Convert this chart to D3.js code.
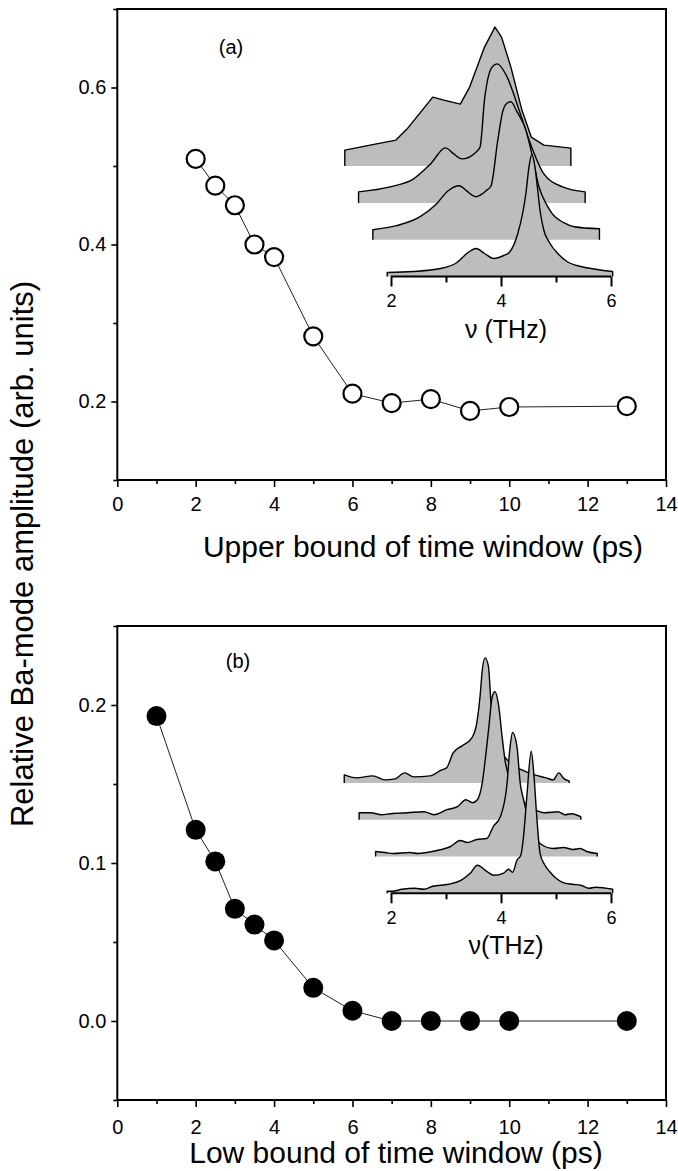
<!DOCTYPE html>
<html>
<head>
<meta charset="utf-8">
<script src="https://cdn.jsdelivr.net/npm/d3@7"></script>
<style>
  body { margin: 0; background: #fff; }
  text { font-family: "Liberation Sans", Arial, Helvetica, sans-serif; fill: #000; }
</style>
</head>
<body>
<svg id="chart" width="678" height="1171"></svg>
<script>
// ---- data ----
const upperBound = [2, 2.5, 3, 3.5, 4, 5, 6, 7, 8, 9, 10, 13];
const upperAmp = [0.509, 0.475, 0.450, 0.400, 0.384, 0.283, 0.210, 0.198, 0.203, 0.188, 0.193, 0.194];

const lowBound = [1, 2, 2.5, 3, 3.5, 4, 5, 6, 7, 8, 9, 10, 13];
const lowAmp = [0.193, 0.121, 0.101, 0.071, 0.061, 0.051, 0.021, 0.0065, 0, 0, 0, 0, 0];

const xTicks = [0, 2, 4, 6, 8, 10, 12, 14];
const xMinor = [1, 3, 5, 7, 9, 11, 13];
const upperYTicks = [0.2, 0.4, 0.6];
const upperYMinor = [0.1, 0.3, 0.5, 0.7];
const lowYTicks = [0.0, 0.1, 0.2];
const lowYMinor = [-0.05, 0.05, 0.15, 0.25];
const insetTicks = [2, 4, 6];
const insetMinor = [3, 5];

// inset spectra: [frequency (THz), intensity (arb.)], index 0 = front / lowest trace
const specA0 = [[1.93,4],[2.4,5],[2.9,8],[3.2,14],[3.4,24],[3.55,28],[3.7,23],[3.87,18],[4.05,21],[4.15,24],[4.3,42],[4.4,65],[4.45,82],[4.51,110],[4.56,122],[4.61,112],[4.66,90],[4.71,66],[4.78,46],[4.88,34],[5.05,22],[5.2,15],[5.45,10],[5.75,7],[6.03,5]];
const specA1 = [[1.93,10],[2.36,14],[2.79,23],[3.09,36],[3.3,49],[3.5,54],[3.63,49],[3.8,43],[3.99,49],[4.08,54],[4.2,99],[4.29,128],[4.36,136],[4.44,138],[4.55,128],[4.71,110],[4.82,86],[4.95,53],[5.1,34],[5.19,26],[5.4,17],[5.59,13],[6.05,11]];
const specA2 = [[1.93,11],[2.5,16],[2.93,24],[3.24,39],[3.51,55],[3.66,49],[3.81,44],[4.05,50],[4.14,56],[4.22,103],[4.36,136],[4.45,139],[4.63,126],[4.83,96],[5.03,63],[5.3,29],[5.64,16],[6.05,11]];
const specA3 = [[1.94,16],[2.4,21],[2.87,26],[3.07,37],[3.54,69],[3.74,66],[4.04,62],[4.21,79],[4.48,119],[4.67,139],[4.79,129],[4.96,99],[5.16,56],[5.33,29],[5.56,21],[6.05,18]];

const specB0 = [[1.93,2],[2.02,2],[2.2,4],[2.43,5],[2.6,4],[2.76,7],[3.05,9],[3.27,13],[3.44,20],[3.57,28],[3.74,22],[3.87,18],[4.04,20],[4.14,24],[4.21,21],[4.29,33],[4.36,38],[4.41,57],[4.47,97],[4.55,142],[4.6,117],[4.65,77],[4.71,40],[4.8,28],[4.88,22],[4.98,16],[5.12,11],[5.3,9],[5.45,8],[5.6,5],[5.72,6],[6.03,4]];
const specB1 = [[1.98,5],[2.15,4],[2.3,3],[2.6,4],[2.75,3],[2.91,4],[3.1,6],[3.34,10],[3.52,16],[3.65,14],[3.82,17],[4.0,18],[4.12,30],[4.25,40],[4.37,73],[4.42,107],[4.47,124],[4.55,110],[4.61,73],[4.67,57],[4.75,38],[4.85,22],[4.97,13],[5.21,8],[5.4,9],[5.57,7],[5.7,8],[5.82,5],[6.01,3]];
const specB2 = [[1.94,7],[2.15,7],[2.35,5],[2.51,6],[2.82,7],[3.12,8],[3.3,5],[3.54,10],[3.73,13],[3.88,20],[4.0,17],[4.09,20],[4.18,37],[4.24,63],[4.3,93],[4.36,123],[4.41,128],[4.48,113],[4.54,83],[4.6,57],[4.7,38],[4.8,26],[4.89,20],[5.13,10],[5.31,7],[5.56,8],[5.68,5],[5.8,6],[5.97,3]];
const specB3 = [[1.93,8],[2.15,5],[2.45,7],[2.67,3],[2.85,4],[3.03,10],[3.19,6],[3.49,7],[3.7,13],[3.79,15],[3.91,30],[4.07,37],[4.25,45],[4.34,60],[4.4,87],[4.44,113],[4.49,125],[4.55,117],[4.61,70],[4.67,50],[4.8,30],[4.95,20],[5.16,13],[5.39,8],[5.6,5],[5.73,3],[5.83,10],[5.93,4],[6.02,2]];

// ---- layout ----
const svg = d3.select('#chart');
const plotLeft = 117.3, plotRight = 666;
const x = d3.scaleLinear().domain([0, 14]).range([plotLeft, plotRight]);

// inset geometry
const insetX = d3.scaleLinear().domain([2, 6]).range([391, 611]);
const insetAmp = d3.scaleLinear().domain([0, 140]).range([0, 140]);
const stackDx = 14.3, stackDy = 36.8;
const shade = '#bdbdbd';

function styleAxis(g, size) {
  g.select('.domain').remove();
  g.selectAll('line').attr('stroke', '#000').attr('stroke-width', 1.6);
  g.selectAll('text').attr('font-size', size).attr('fill', '#000')
    .style('font-family', '"Liberation Sans", Arial, sans-serif');
}

function drawInset(g, axisY, spectra, labelText, coarseTop) {
  // back traces first, front trace last
  for (let k = spectra.length - 1; k >= 0; k--) {
    const s = spectra[k];
    const ox = -k * stackDx;
    const base = axisY - k * stackDy;
    const curve = (k === 3 && coarseTop) ? d3.curveLinear : d3.curveMonotoneX;
    const area = d3.area()
      .x(d => insetX(d[0]) + ox)
      .y0(base)
      .y1(d => base - insetAmp(d[1]))
      .curve(curve);
    g.append('path').attr('d', area(s)).attr('fill', shade);

    const line = d3.line()
      .x(d => insetX(d[0]) + ox)
      .y(d => base - insetAmp(d[1]))
      .curve(curve);
    const x0 = insetX(s[0][0]) + ox;
    const x1 = insetX(s[s.length - 1][0]) + ox;
    g.append('path')
      .attr('d', `M${x0},${base}` + line(s).replace(/^M/, 'L') + `L${x1},${base}`)
      .attr('fill', 'none')
      .attr('stroke', '#000')
      .attr('stroke-width', 1.4)
      .attr('stroke-linejoin', 'round');
  }

  // inset frequency axis
  g.append('line')
    .attr('x1', insetX(2)).attr('x2', insetX(6))
    .attr('y1', axisY).attr('y2', axisY)
    .attr('stroke', '#000').attr('stroke-width', 2);
  const ax = g.append('g').attr('transform', `translate(0,${axisY})`)
    .call(d3.axisBottom(insetX).tickValues(insetTicks).tickSize(10).tickPadding(8).tickFormat(d3.format('d')));
  styleAxis(ax, 18);
  ax.selectAll('line').attr('stroke-width', 2);
  const axm = g.append('g').attr('transform', `translate(0,${axisY})`)
    .call(d3.axisBottom(insetX).tickValues(insetMinor).tickSize(6).tickFormat(''));
  styleAxis(axm, 18);
  axm.selectAll('line').attr('stroke-width', 2);

  g.append('text')
    .attr('x', insetX(4) + 5)
    .attr('y', axisY + 61)
    .attr('text-anchor', 'middle')
    .attr('font-size', 25)
    .text(labelText);
}

function drawPanel(opt) {
  const g = svg.append('g');
  const y = d3.scaleLinear().domain(opt.yDomain).range([opt.bottom, opt.top]);

  // frame
  g.append('rect')
    .attr('x', plotLeft).attr('y', opt.top)
    .attr('width', plotRight - plotLeft).attr('height', opt.bottom - opt.top)
    .attr('fill', 'none').attr('stroke', '#000').attr('stroke-width', 2);

  // x axis
  const gx = g.append('g').attr('transform', `translate(0,${opt.bottom})`)
    .call(d3.axisBottom(x).tickValues(xTicks).tickSize(7).tickPadding(opt.xPad).tickFormat(d3.format('d')));
  styleAxis(gx, 20);
  const gxm = g.append('g').attr('transform', `translate(0,${opt.bottom})`)
    .call(d3.axisBottom(x).tickValues(xMinor).tickSize(4).tickFormat(''));
  styleAxis(gxm, 20);

  // y axis
  const gy = g.append('g').attr('transform', `translate(${plotLeft},0)`)
    .call(d3.axisLeft(y).tickValues(opt.yTicks).tickSize(6).tickPadding(5).tickFormat(d3.format('.1f')));
  styleAxis(gy, 20);
  const gym = g.append('g').attr('transform', `translate(${plotLeft},0)`)
    .call(d3.axisLeft(y).tickValues(opt.yMinor).tickSize(4).tickFormat(''));
  styleAxis(gym, 20);

  // x title
  g.append('text')
    .attr('x', opt.titleX).attr('y', opt.titleY)
    .attr('text-anchor', 'middle')
    .attr('font-size', 30)
    .text(opt.title);

  // panel label
  g.append('text')
    .attr('x', opt.labelX).attr('y', opt.labelY)
    .attr('text-anchor', 'middle')
    .attr('font-size', 20)
    .text(opt.label);

  drawInset(g, opt.insetAxisY, opt.spectra, opt.insetLabel, opt.coarseTop);

  // data
  const pts = opt.xs.map((v, i) => [v, opt.ys[i]]);
  g.append('path')
    .attr('d', d3.line().x(d => x(d[0])).y(d => y(d[1]))(pts))
    .attr('fill', 'none').attr('stroke', '#222').attr('stroke-width', 1);
  g.selectAll('circle.pt').data(pts).join('circle')
    .attr('class', 'pt')
    .attr('cx', d => x(d[0])).attr('cy', d => y(d[1]))
    .attr('r', opt.filled ? 10 : 9)
    .attr('fill', opt.filled ? '#000' : '#fff')
    .attr('stroke', '#000').attr('stroke-width', opt.filled ? 0 : 2.2);
}

drawPanel({
  top: 9, bottom: 480, yDomain: [0.1, 0.7],
  yTicks: upperYTicks, yMinor: upperYMinor,
  xs: upperBound, ys: upperAmp, filled: false,
  xPad: 10, title: 'Upper bound of time window (ps)', titleX: 423, titleY: 557,
  label: '(a)', labelX: 231, labelY: 54,
  insetAxisY: 276.5, spectra: [specA0, specA1, specA2, specA3], insetLabel: 'ν (THz)', coarseTop: true
});

drawPanel({
  top: 626, bottom: 1100, yDomain: [-0.05, 0.25],
  yTicks: lowYTicks, yMinor: lowYMinor,
  xs: lowBound, ys: lowAmp, filled: true,
  xPad: 13, title: 'Low bound of time window (ps)', titleX: 396, titleY: 1163,
  label: '(b)', labelX: 238, labelY: 668,
  insetAxisY: 893.3, spectra: [specB0, specB1, specB2, specB3], insetLabel: 'ν(THz)', coarseTop: false
});

// shared y title
svg.append('text')
  .attr('transform', 'translate(33,554) rotate(-90)')
  .attr('text-anchor', 'middle')
  .attr('font-size', 31)
  .text('Relative Ba-mode amplitude (arb. units)');
</script>
</body>
</html>
